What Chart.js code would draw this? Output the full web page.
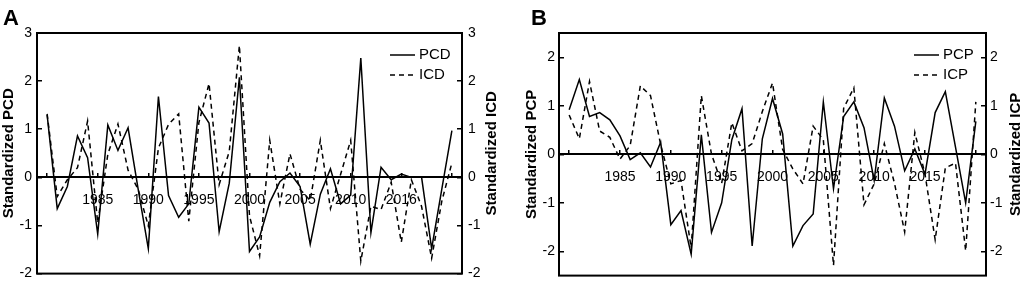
<!DOCTYPE html>
<html>
<head>
<meta charset="utf-8">
<script src="https://cdn.jsdelivr.net/npm/chart.js@4.4.1/dist/chart.umd.min.js"></script>
<style>
  body { margin: 0; background: #fff; }
  .panel { position: absolute; top: 0; height: 293px; }
  #panelA { left: 0; width: 510px; }
  #panelB { left: 510px; width: 514px; }
</style>
</head>
<body>
<div class="panel" id="panelA"><canvas id="chartA"></canvas></div>
<div class="panel" id="panelB"><canvas id="chartB"></canvas></div>
<script>
const years = [1980, 1981, 1982, 1983, 1984, 1985, 1986, 1987, 1988, 1989,
  1990, 1991, 1992, 1993, 1994, 1995, 1996, 1997, 1998, 1999,
  2000, 2001, 2002, 2003, 2004, 2005, 2006, 2007, 2008, 2009,
  2010, 2011, 2012, 2013, 2014, 2015, 2016, 2017, 2018, 2019, 2020];

// panel A
const pcd = [1.30, -0.65, -0.19, 0.86, 0.41, -1.18, 1.09, 0.56, 1.03, -0.25,
  -1.48, 1.68, -0.38, -0.83, -0.55, 1.46, 1.13, -1.13, -0.12, 2.08,
  -1.54, -1.24, -0.52, -0.09, 0.09, -0.19, -1.39, -0.35, 0.18, -0.55,
  -0.37, 2.48, -1.15, 0.21, -0.05, 0.07, 0.00, 0.01, -1.48, -0.25, 0.97];
const icd = [1.32, -0.40, -0.05, 0.20, 1.17, -0.95, 0.48, 1.11, 0.15, -0.25,
  -1.01, 0.61, 1.10, 1.32, -0.91, 1.14, 1.95, -0.15, 0.54, 2.74,
  -0.80, -1.63, 0.77, -0.55, 0.49, -0.25, -0.48, 0.77, -0.65, 0.06,
  0.77, -1.74, -0.60, -0.67, -0.10, -1.35, -0.05, -0.60, -1.68, -0.50, 0.30];

// panel B
const pcp = [0.92, 1.54, 0.78, 0.86, 0.71, 0.38, -0.11, 0.03, -0.26, 0.25,
  -1.45, -1.16, -2.06, 0.40, -1.61, -1.00, 0.30, 0.94, -1.89, 0.32,
  1.15, 0.42, -1.89, -1.47, -1.23, 1.08, -0.71, 0.78, 1.08, 0.55,
  -0.54, 1.16, 0.58, -0.34, 0.11, -0.41, 0.86, 1.29, 0.15, -1.00, 0.68];
const icp = [0.81, 0.32, 1.50, 0.48, 0.35, -0.10, 0.18, 1.41, 1.21, 0.20,
  -0.61, -0.54, -1.93, 1.21, 0.00, -0.60, 0.65, 0.07, 0.22, 0.88,
  1.47, 0.10, -0.30, -0.61, 0.58, 0.30, -2.29, 0.95, 1.37, -1.04,
  -0.61, 0.22, -0.60, -1.60, 0.45, -0.41, -1.76, -0.28, -0.18, -1.99, 1.08];

const xTicks = [1980, 1985, 1990, 1995, 2000, 2005, 2010, 2015, 2020];
const xLabelsA = ['', '1985', '1990', '1995', '2000', '2005', '2010', '2016', ''];
const xLabelsB = ['', '1985', '1990', '1995', '2000', '2005', '2010', '2015', ''];
const yTicksA = [-2, -1, 0, 1, 2, 3];
const yTicksB = [-2, -1, 0, 1, 2];

const FONT = '"Liberation Sans", Arial, sans-serif';
Chart.defaults.font.family = FONT;
Chart.defaults.color = '#000';

// frame, panel letter, right title and legend
const panelDecor = {
  id: 'panelDecor',
  afterDraw(chart, args, opts) {
    const ctx = chart.ctx;
    const a = chart.chartArea;
    ctx.save();
    ctx.strokeStyle = '#000';
    ctx.lineWidth = 2;
    ctx.strokeRect(a.left, a.top, a.right - a.left, a.bottom - a.top);

    ctx.fillStyle = '#000';
    ctx.font = 'bold 22px ' + FONT;
    ctx.textAlign = 'left';
    ctx.textBaseline = 'alphabetic';
    ctx.fillText(opts.letter, opts.letterX, 25);

    ctx.save();
    ctx.translate(opts.rightTitleX, (a.top + a.bottom) / 2);
    ctx.rotate(-Math.PI / 2);
    ctx.font = 'bold 15px ' + FONT;
    ctx.textAlign = 'center';
    ctx.textBaseline = 'middle';
    ctx.fillText(opts.rightTitle, 0, 0);
    ctx.restore();

    ctx.font = '15px ' + FONT;
    ctx.textBaseline = 'middle';
    chart.data.datasets.forEach((ds, i) => {
      const y = a.top + 22 + i * 20;
      const x0 = a.right - 72;
      ctx.beginPath();
      ctx.setLineDash(ds.borderDash || []);
      ctx.lineWidth = ds.borderWidth;
      ctx.moveTo(x0, y);
      ctx.lineTo(x0 + 25, y);
      ctx.stroke();
      ctx.setLineDash([]);
      ctx.fillText(ds.label, a.right - 43, y);
    });
    ctx.restore();
  }
};

function makeChart(id, cfg) {
  const toPts = arr => years.map((yr, i) => ({ x: yr, y: arr[i] }));
  const tickFont = { size: 14, family: FONT };
  const yAxis = (pos, width, pad, extra) => Object.assign({
    type: 'linear',
    position: pos,
    min: cfg.yMin,
    max: cfg.yMax,
    afterFit: s => { s.width = width; },
    afterBuildTicks: s => { s.ticks = cfg.yTicks.map(v => ({ value: v })); },
    grid: { display: true, drawOnChartArea: false, drawTicks: true, tickLength: -5, color: '#000', lineWidth: 1.5 },
    border: { display: false },
    ticks: { padding: pad, color: '#000', font: tickFont }
  }, extra || {});

  return new Chart(document.getElementById(id), {
    type: 'line',
    data: {
      datasets: [
        {
          label: cfg.names[0],
          data: toPts(cfg.solid),
          borderColor: '#000',
          borderWidth: 1.5,
          pointRadius: 0,
          tension: 0,
          yAxisID: 'y'
        },
        {
          label: cfg.names[1],
          data: toPts(cfg.dashed),
          borderColor: '#000',
          borderWidth: 1.5,
          borderDash: [5, 4],
          pointRadius: 0,
          tension: 0,
          yAxisID: 'y1'
        }
      ]
    },
    options: {
      responsive: true,
      maintainAspectRatio: false,
      animation: false,
      layout: { padding: { top: 33, bottom: 8, left: 0, right: 0 } },
      plugins: {
        legend: { display: false },
        tooltip: { enabled: false },
        panelDecor: {
          letter: cfg.letter,
          letterX: cfg.letterX,
          rightTitle: cfg.rightTitle,
          rightTitleX: cfg.rightTitleX
        }
      },
      scales: {
        x: {
          type: 'linear',
          min: 1979,
          max: 2021,
          position: { y: 0 },
          afterFit: s => { s.height = 0; },
          afterBuildTicks: s => { s.ticks = xTicks.map(v => ({ value: v })); },
          grid: { display: true, drawOnChartArea: false, drawTicks: true, tickLength: -5, color: '#000', lineWidth: 1.5 },
          border: { display: true, color: '#000', width: 2 },
          ticks: {
            padding: 19,
            color: '#000',
            font: tickFont,
            maxRotation: 0,
            autoSkip: false,
            callback: (v, i) => cfg.xLabels[i]
          }
        },
        y: yAxis('left', cfg.leftW, cfg.leftPad, {
          title: {
            display: true,
            text: cfg.leftTitle,
            color: '#000',
            font: { size: 15, weight: 'bold', family: FONT },
            padding: { top: cfg.leftTitlePad, bottom: 0 }
          }
        }),
        y1: yAxis('right', cfg.rightW, cfg.rightPad)
      }
    },
    plugins: [panelDecor]
  });
}

document.addEventListener('DOMContentLoaded', function () {
  makeChart('chartA', {
    solid: pcd, dashed: icd, names: ['PCD', 'ICD'],
    yMin: -2, yMax: 3, yTicks: yTicksA, xLabels: xLabelsA,
    leftW: 37, rightW: 48, leftPad: 10, rightPad: 11,
    leftTitle: 'Standardized PCD', leftTitlePad: 0,
    rightTitle: 'Standardized ICD', rightTitleX: 492,
    letter: 'A', letterX: 3
  });

  makeChart('chartB', {
    solid: pcp, dashed: icp, names: ['PCP', 'ICP'],
    yMin: -2.5, yMax: 2.5, yTicks: yTicksB, xLabels: xLabelsB,
    leftW: 49, rightW: 38, leftPad: 9, rightPad: 9,
    leftTitle: 'Standardized PCP', leftTitlePad: 13,
    rightTitle: 'Standardized ICP', rightTitleX: 506,
    letter: 'B', letterX: 21
  });
});
</script>
</body>
</html>
